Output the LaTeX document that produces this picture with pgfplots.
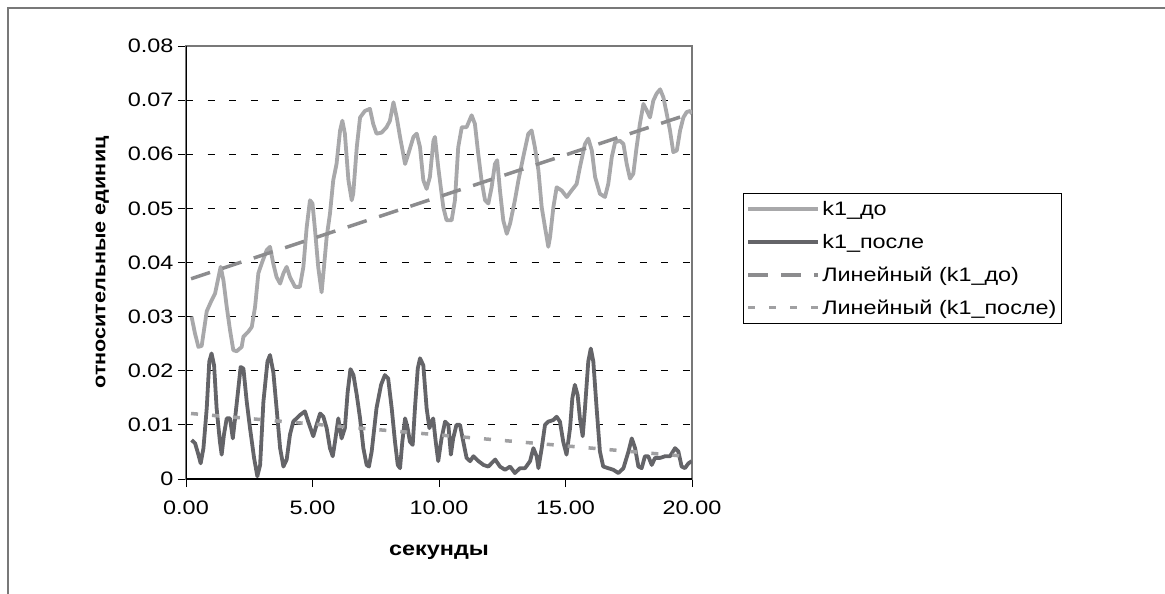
\documentclass[border=0pt]{standalone}
\usepackage{pgfplots}
\pgfplotsset{compat=1.18}
\usepackage{fontspec}
\setmainfont{Liberation Sans}[FakeStretch=1.2]
\definecolor{cLight}{RGB}{168,168,170}
\definecolor{cDark}{RGB}{100,100,104}
\definecolor{cTrendA}{RGB}{140,140,142}
\definecolor{cTrendB}{RGB}{160,160,162}
\definecolor{cFrame}{RGB}{120,120,120}
\newcommand{\fs}{\fontsize{19.5}{23}\selectfont}
\newcommand{\fy}{\fontsize{18}{21}\selectfont}
\begin{document}
\begin{tikzpicture}[x=1pt,y=1pt]
\useasboundingbox (0,0) rectangle (1165,-594);
\draw[cFrame, line width=1.5pt] (8,-594) -- (8,-8) -- (1165,-8);
\begin{axis}[
  at={(186pt,-479pt)}, anchor=south west,
  scale only axis, width=506pt, height=433pt,
  xmin=0, xmax=20, ymin=0, ymax=0.08,
  xtick={0,5,10,15,20},
  xticklabels={0.00,5.00,10.00,15.00,20.00},
  ytick={0,0.01,0.02,0.03,0.04,0.05,0.06,0.07,0.08},
  yticklabels={0,0.01,0.02,0.03,0.04,0.05,0.06,0.07,0.08},
  scaled y ticks=false,
  tick pos=left, tick align=outside,
  major tick length=8pt,
  tick style={black, line width=1pt},
  axis line style={cFrame, line width=1.3pt},
  ymajorgrids,
  grid style={black, line width=1pt, dash pattern=on 7pt off 14.6pt},
  ticklabel style={font=\fs},
  xticklabel style={yshift=-10pt},
  yticklabel style={xshift=-1pt},
  xlabel={\textbf{секунды}},
  ylabel={\textbf{относительные единиц}},
  xlabel style={font=\fs, yshift=-24pt},
  ylabel style={font=\fy, yshift=12pt},
  legend style={at={(1.1008,0.6605)}, anchor=north west, draw=black, line width=1pt,
    font=\fs, inner xsep=3pt, inner ysep=6pt, row sep=13pt,
    nodes={inner sep=2pt}},
  legend cell align=left,
  legend image code/.code={\draw[#1] (0pt,0pt) -- (70pt,0pt);},
]
\addplot[cLight, line width=3.8pt, line join=round] table {
0.22 0.0300
0.35 0.0270
0.49 0.0244
0.62 0.0246
0.82 0.0310
1.01 0.0330
1.15 0.0343
1.37 0.0392
1.48 0.0367
1.61 0.0318
1.74 0.0275
1.87 0.0238
2.00 0.0236
2.20 0.0244
2.27 0.0263
2.46 0.0272
2.60 0.0281
2.73 0.0318
2.86 0.0380
2.99 0.0398
3.19 0.0423
3.32 0.0429
3.45 0.0398
3.58 0.0373
3.72 0.0361
3.85 0.0380
3.98 0.0392
4.11 0.0373
4.31 0.0355
4.50 0.0355
4.64 0.0392
4.77 0.0465
4.90 0.0515
5.00 0.0509
5.10 0.0460
5.23 0.0390
5.36 0.0345
5.45 0.0390
5.56 0.0447
5.69 0.0490
5.82 0.0552
5.95 0.0582
6.09 0.0644
6.18 0.0662
6.28 0.0638
6.42 0.0552
6.55 0.0515
6.61 0.0527
6.75 0.0613
6.88 0.0668
7.07 0.0680
7.27 0.0684
7.40 0.0656
7.53 0.0638
7.73 0.0640
7.93 0.0650
8.06 0.0662
8.20 0.0696
8.33 0.0668
8.46 0.0632
8.66 0.0582
8.79 0.0601
8.99 0.0632
9.12 0.0638
9.25 0.0613
9.38 0.0552
9.51 0.0536
9.64 0.0558
9.78 0.0625
9.84 0.0632
9.97 0.0576
10.17 0.0502
10.30 0.0478
10.50 0.0478
10.63 0.0515
10.76 0.0613
10.90 0.0650
11.09 0.0650
11.29 0.0672
11.42 0.0656
11.55 0.0601
11.68 0.0552
11.82 0.0515
11.95 0.0509
12.08 0.0539
12.21 0.0582
12.30 0.0589
12.41 0.0533
12.54 0.0478
12.68 0.0453
12.81 0.0472
13.00 0.0515
13.14 0.0552
13.33 0.0595
13.53 0.0638
13.66 0.0644
13.79 0.0613
13.93 0.0570
14.06 0.0502
14.19 0.0465
14.32 0.0429
14.39 0.0447
14.52 0.0502
14.65 0.0539
14.85 0.0533
15.05 0.0521
15.24 0.0533
15.44 0.0545
15.57 0.0576
15.77 0.0619
15.90 0.0629
16.04 0.0607
16.17 0.0558
16.36 0.0527
16.56 0.0521
16.69 0.0545
16.83 0.0595
16.96 0.0622
17.15 0.0625
17.29 0.0619
17.42 0.0582
17.55 0.0555
17.68 0.0564
17.81 0.0613
17.94 0.0656
18.08 0.0693
18.21 0.0681
18.34 0.0668
18.47 0.0699
18.60 0.0712
18.74 0.0720
18.87 0.0705
19.00 0.0675
19.13 0.0644
19.26 0.0604
19.40 0.0607
19.53 0.0644
19.66 0.0668
19.79 0.0678
19.92 0.0680
20.00 0.0675
};
\addlegendentry{k1\_до}
\addplot[cDark, line width=3.8pt, line join=round] table {
0.22 0.0072
0.36 0.0066
0.49 0.0045
0.58 0.0029
0.69 0.0057
0.82 0.0131
0.92 0.0217
1.01 0.0232
1.11 0.0210
1.21 0.0131
1.34 0.0069
1.41 0.0045
1.50 0.0082
1.61 0.0112
1.74 0.0112
1.85 0.0075
1.94 0.0112
2.04 0.0155
2.16 0.0207
2.27 0.0204
2.40 0.0143
2.53 0.0094
2.69 0.0039
2.82 0.0005
2.93 0.0026
3.06 0.0143
3.22 0.0217
3.32 0.0229
3.45 0.0198
3.58 0.0131
3.72 0.0057
3.85 0.0023
3.98 0.0036
4.11 0.0082
4.24 0.0106
4.50 0.0118
4.70 0.0125
4.83 0.0106
5.03 0.0079
5.16 0.0100
5.30 0.0121
5.43 0.0115
5.56 0.0094
5.69 0.0057
5.80 0.0042
5.89 0.0069
6.02 0.0112
6.15 0.0075
6.28 0.0094
6.39 0.0161
6.50 0.0203
6.62 0.0192
6.75 0.0155
6.88 0.0112
7.01 0.0057
7.14 0.0026
7.23 0.0023
7.34 0.0051
7.53 0.0131
7.71 0.0174
7.86 0.0192
7.99 0.0186
8.13 0.0131
8.26 0.0069
8.37 0.0026
8.46 0.0020
8.55 0.0069
8.66 0.0112
8.76 0.0094
8.85 0.0069
8.96 0.0063
9.05 0.0131
9.16 0.0204
9.25 0.0223
9.38 0.0210
9.51 0.0131
9.62 0.0094
9.71 0.0106
9.77 0.0112
9.87 0.0069
9.97 0.0033
10.10 0.0075
10.24 0.0106
10.37 0.0100
10.47 0.0045
10.56 0.0075
10.69 0.0100
10.83 0.0100
10.96 0.0069
11.09 0.0039
11.23 0.0033
11.36 0.0042
11.56 0.0033
11.76 0.0026
11.95 0.0023
12.22 0.0036
12.41 0.0023
12.61 0.0017
12.81 0.0023
13.00 0.0011
13.20 0.0020
13.40 0.0020
13.60 0.0033
13.73 0.0057
13.86 0.0042
13.93 0.0020
14.06 0.0057
14.19 0.0100
14.32 0.0106
14.52 0.0109
14.65 0.0115
14.78 0.0106
14.91 0.0069
15.04 0.0045
15.18 0.0094
15.27 0.0149
15.37 0.0174
15.48 0.0155
15.57 0.0112
15.68 0.0079
15.77 0.0131
15.90 0.0217
16.00 0.0241
16.10 0.0217
16.23 0.0131
16.36 0.0051
16.49 0.0023
16.69 0.0020
16.89 0.0017
17.09 0.0011
17.29 0.0020
17.49 0.0051
17.62 0.0075
17.75 0.0057
17.88 0.0023
18.01 0.0020
18.14 0.0042
18.27 0.0042
18.41 0.0026
18.54 0.0039
18.74 0.0039
18.93 0.0042
19.13 0.0042
19.33 0.0057
19.46 0.0051
19.59 0.0023
19.72 0.0020
19.86 0.0029
19.99 0.0033
};
\addlegendentry{k1\_после}
\addplot[cTrendA, line width=3.5pt, dash pattern=on 20pt off 13pt] table {
0.2 0.0370
20 0.0676
};
\addlegendentry{Линейный (k1\_до)}
\addplot[cTrendB, line width=3.5pt, dash pattern=on 7pt off 14pt] table {
0.2 0.0121
20 0.0041
};
\addlegendentry{Линейный (k1\_после)}
\draw[black, line width=1.3pt] (rel axis cs:0,1) -- (rel axis cs:0,0) -- (rel axis cs:1,0);
\end{axis}
\end{tikzpicture}
\end{document}
